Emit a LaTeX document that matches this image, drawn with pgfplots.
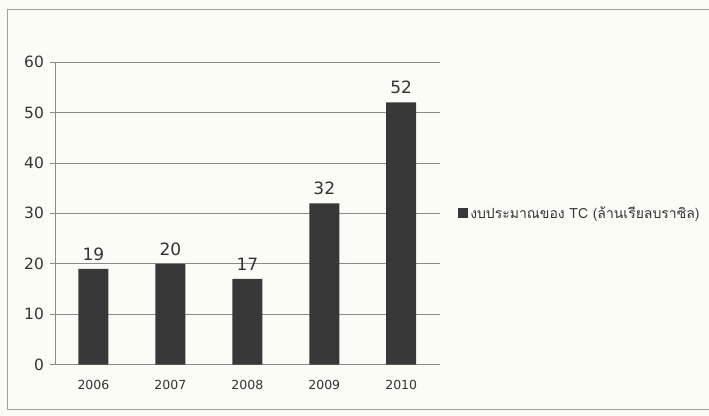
\documentclass[border=0pt]{standalone}
\usepackage{fontspec}
\setmainfont{DejaVu Sans}
\newfontfamily\thaifont[Script=Thai]{Loma}
\usepackage{pgfplots}
\pgfplotsset{compat=1.18}
\definecolor{bg}{HTML}{FCFCF7}
\definecolor{barc}{HTML}{383838}
\definecolor{gridc}{HTML}{8A8A8A}
\definecolor{framec}{HTML}{A0A0A0}
\begin{document}
\begin{tikzpicture}[x=1pt,y=1pt]
\fill[bg] (0,0) rectangle (709,416);
\draw[framec, line width=1pt] (709,406) -- (8,406) -- (8,6) -- (709,6);
\begin{axis}[
  at={(55pt,51pt)}, anchor=south west,
  scale only axis, width=385pt, height=303pt,
  ybar, bar width=30pt,
  xmin=-0.5, xmax=4.5, ymin=0, ymax=60,
  ytick={0,10,...,60},
  xtick={0,1,2,3,4}, xticklabels={2006,2007,2008,2009,2010},
  extra x ticks={-0.5,0.5,1.5,2.5,3.5,4.5},
  extra x tick labels={},
  extra x tick style={tick style={gridc, line width=0.7pt}},
  x tick style={draw=none},
  y tick style={gridc, line width=0.7pt},
  major tick length=4.5pt,
  tick align=outside,
  ymajorgrids, grid style={gridc, line width=0.7pt},
  axis lines*=left,
  axis line style={gridc, line width=0.7pt, -},
  separate axis lines,
  /pgf/number format/assume math mode=true,
  yticklabel style={font=\fontsize{15.5}{17}\selectfont, text=black!80, xshift=-3pt},
  xticklabel style={font=\fontsize{12.5}{14}\selectfont, text=black!80, yshift=-7pt},
  nodes near coords,
  every node near coord/.append style={font=\fontsize{17}{19}\selectfont, text=black!80, yshift=5pt},
  legend style={at={(1.04,0.5)}, anchor=west, draw=none, fill=none,
    font=\thaifont\fontsize{14}{16}\selectfont, text=black!80,
    legend cell align=left},
  legend image code/.code={\fill[barc] (0pt,-5pt) rectangle (10pt,5pt);},
]
\addplot[fill=barc, draw=none] coordinates {(0,19) (1,20) (2,17) (3,32) (4,52)};
\legend{งบประมาณของ TC (ล้านเรียลบราซิล)}
\end{axis}
\end{tikzpicture}
\end{document}
